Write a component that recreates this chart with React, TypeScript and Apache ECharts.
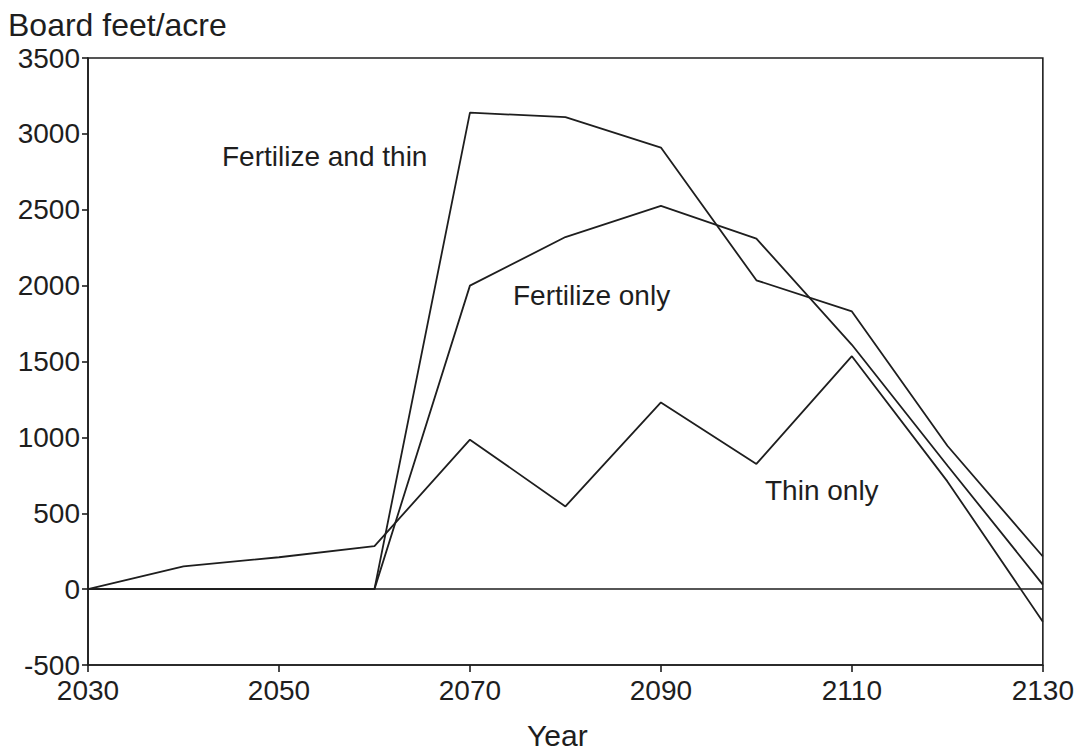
import React, { useEffect, useRef } from "react";
import * as echarts from "echarts";

const years = [2030, 2040, 2050, 2060, 2070, 2080, 2090, 2100, 2110, 2120, 2130];
const fertilizeAndThin = [0, 0, 0, 0, 3140, 3110, 2910, 2035, 1830, 945, 215];
const fertilizeOnly = [0, 0, 0, 0, 2000, 2320, 2525, 2310, 1610, 815, 30];
const thinOnly = [0, 150, 210, 283, 985, 545, 1230, 825, 1535, 710, -215];

const seriesNames = ["Fertilize and thin", "Fertilize only", "Thin only"];
const yTitle = "Board feet/acre";
const xTitle = "Year";

const FONT = "'Liberation Sans', Arial, Helvetica, sans-serif";
const INK = "#1e1e1e";

export default function App() {
  const ref = useRef<HTMLDivElement>(null);
  useEffect(() => {
    if (!ref.current) return;
    const chart = echarts.init(ref.current, undefined, { renderer: "svg" });
    const mk = (vals: number[]) => years.map((y, i) => [y, vals[i]]);
    const lineStyle = { color: INK, width: 1.8 };
    chart.setOption({
      animation: false,
      backgroundColor: "#ffffff",
      textStyle: { fontFamily: FONT },
      grid: {
        left: 88,
        top: 58,
        width: 957,
        height: 607,
        show: true,
        borderColor: INK,
        borderWidth: 1.6,
        containLabel: false,
      },
      xAxis: {
        type: "value",
        min: 2030,
        max: 2130,
        interval: 20,
        axisLine: { show: true, onZero: false, lineStyle: { color: INK, width: 1.6 } },
        axisTick: { show: true, inside: false, length: 7, lineStyle: { color: INK, width: 1.6 } },
        axisLabel: {
          fontSize: 28,
          color: INK,
          margin: 11,
          fontFamily: FONT,
          formatter: (v: number) => String(v),
        },
        splitLine: { show: false },
      },
      yAxis: {
        type: "value",
        min: -500,
        max: 3500,
        interval: 500,
        axisLine: { show: true, onZero: false, lineStyle: { color: INK, width: 1.6 } },
        axisTick: { show: true, inside: false, length: 6, lineStyle: { color: INK, width: 1.6 } },
        axisLabel: {
          fontSize: 28,
          color: INK,
          margin: 8,
          fontFamily: FONT,
          formatter: (v: number) => String(v),
        },
        splitLine: { show: false },
      },
      graphic: [
        {
          type: "text",
          left: 8,
          top: 9,
          style: { text: yTitle, fontSize: 32, fill: INK, fontFamily: FONT },
        },
        {
          type: "text",
          left: 527,
          top: 720,
          style: { text: xTitle, fontSize: 30, fill: INK, fontFamily: FONT },
        },
        {
          type: "text",
          left: 222,
          top: 142,
          style: { text: seriesNames[0], fontSize: 28, fill: INK, fontFamily: FONT },
        },
        {
          type: "text",
          left: 513,
          top: 281,
          style: { text: seriesNames[1], fontSize: 28, fill: INK, fontFamily: FONT },
        },
        {
          type: "text",
          left: 765,
          top: 476,
          style: { text: seriesNames[2], fontSize: 28, fill: INK, fontFamily: FONT },
        },
      ],
      series: [
        {
          name: seriesNames[0],
          type: "line",
          data: mk(fertilizeAndThin),
          showSymbol: false,
          lineStyle,
          z: 3,
          markLine: {
            silent: true,
            symbol: "none",
            label: { show: false },
            lineStyle: { color: INK, width: 1.6, type: "solid" },
            data: [{ yAxis: 0 }],
          },
        },
        {
          name: seriesNames[1],
          type: "line",
          data: mk(fertilizeOnly),
          showSymbol: false,
          lineStyle,
          z: 3,
        },
        {
          name: seriesNames[2],
          type: "line",
          data: mk(thinOnly),
          showSymbol: false,
          lineStyle,
          z: 3,
        },
      ],
    });
    return () => chart.dispose();
  }, []);
  return (
    <div
      ref={ref}
      style={{ position: "fixed", left: 0, top: 0, width: 1077, height: 750, background: "#fff" }}
    />
  );
}
